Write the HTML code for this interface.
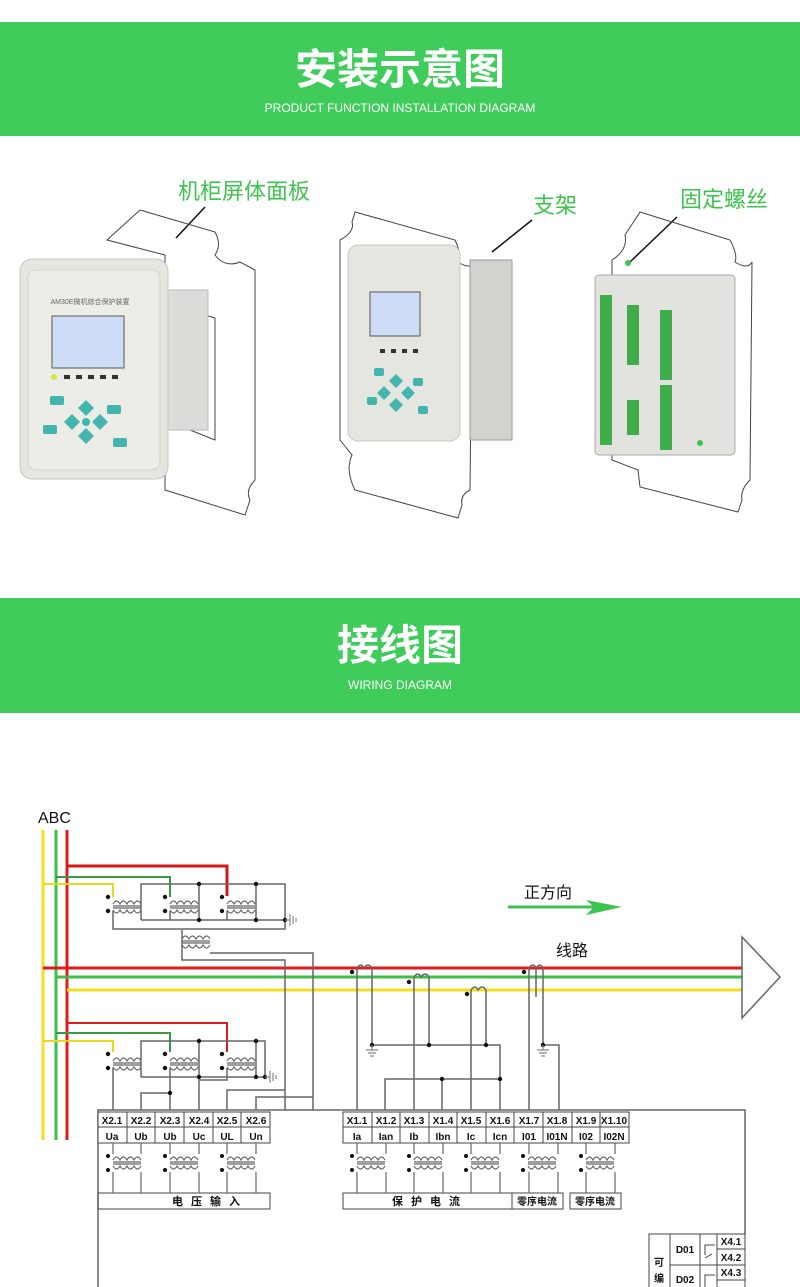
<!DOCTYPE html>
<html><head><meta charset="utf-8"><style>
body{margin:0;background:#fff;}
svg{display:block;}
text{font-family:"Liberation Sans","Noto Sans CJK SC",sans-serif;}
</style></head><body>
<svg width="800" height="1287" viewBox="0 0 800 1287" xmlns="http://www.w3.org/2000/svg">
<!-- banners -->
<rect x="0" y="22" width="800" height="114" fill="#40cc5a"/>
<text x="400" y="84" font-size="42" font-weight="bold" fill="#fff" text-anchor="middle" style="font-family:'Noto Sans CJK SC',sans-serif">安装示意图</text>
<text x="400" y="112" font-size="12" fill="#fff" text-anchor="middle">PRODUCT FUNCTION INSTALLATION DIAGRAM</text>
<rect x="0" y="598" width="800" height="115" fill="#40cc5a"/>
<text x="400" y="660" font-size="42" font-weight="bold" fill="#fff" text-anchor="middle" style="font-family:'Noto Sans CJK SC',sans-serif">接线图</text>
<text x="400" y="689" font-size="12" fill="#fff" text-anchor="middle">WIRING DIAGRAM</text>

<!-- install labels -->
<g fill="#3ec34f" font-size="22">
<text x="178" y="199">机柜屏体面板</text>
<text x="533" y="213">支架</text>
<text x="680" y="207">固定螺丝</text>
</g>
<g stroke="#111" stroke-width="1.5" fill="none">
<line x1="205" y1="207" x2="176" y2="238"/>
<line x1="532" y1="220" x2="492" y2="252"/>
<line x1="677" y1="217" x2="630" y2="262"/>
</g>

<!-- panel outlines -->
<g stroke="#444" stroke-width="1" fill="none">
<path d="M140 210 L215 232 Q222 245 215 255 Q225 268 240 262 L255 270 L255 480 Q245 490 250 500 L245 515 L165 490 L165 255 L107 240 Z"/>
<path d="M140 295 L215 318 L215 440 L190 430"/>
<path d="M355 212 L455 240 Q462 255 458 262 Q470 270 475 262 L472 300 L470 490 Q460 495 462 505 L458 518 L355 490 Q345 470 352 455 L340 440 L340 240 Q355 232 352 222 Z"/>
<path d="M640 212 L730 240 Q738 255 735 262 Q748 270 752 262 L750 480 Q740 490 742 500 L738 512 L640 487 L638 470 L612 460 L612 260 Q628 250 625 235 Z"/>
</g>
<!-- left device -->
<rect x="160" y="290" width="48" height="140" fill="#dcdcd8" stroke="#bbb"/>
<rect x="20" y="259" width="148" height="220" rx="12" fill="#e6e6e0" stroke="#c8c8c0"/>
<rect x="28" y="270" width="132" height="200" rx="8" fill="#ededE8" stroke="#d4d4cc"/>
<rect x="52" y="316" width="72" height="52" fill="#cfdcf6" stroke="#555"/>
<text x="90" y="304" font-size="7" fill="#666" text-anchor="middle">AM30E微机综合保护装置</text>
<g fill="#333"><rect x="64" y="375" width="6" height="4"/><rect x="76" y="375" width="6" height="4"/><rect x="88" y="375" width="6" height="4"/><rect x="100" y="375" width="6" height="4"/><rect x="112" y="375" width="6" height="4"/></g>
<circle cx="54" cy="377" r="3" fill="#dde24a"/>
<g fill="#44b4ae">
<rect x="50" y="396" width="14" height="9" rx="2"/><rect x="107" y="405" width="14" height="9" rx="2"/>
<rect x="43" y="425" width="14" height="9" rx="2"/><rect x="113" y="438" width="14" height="9" rx="2"/>
<path d="M86 400 l8 8 l-8 8 l-8 -8z"/><path d="M86 428 l8 8 l-8 8 l-8 -8z"/><path d="M72 414 l8 8 l-8 8 l-8 -8z"/><path d="M100 414 l8 8 l-8 8 l-8 -8z"/><circle cx="86" cy="422" r="4"/>
</g>
<!-- mid device -->
<rect x="470" y="260" width="42" height="180" fill="#d2d2ce" stroke="#999"/>
<rect x="348" y="245" width="112" height="196" rx="10" fill="#e6e6e0" stroke="#c8c8c0"/>
<rect x="370" y="292" width="50" height="44" fill="#cfdcf6" stroke="#555"/>
<g fill="#333"><rect x="380" y="349" width="5" height="4"/><rect x="391" y="349" width="5" height="4"/><rect x="402" y="349" width="5" height="4"/><rect x="413" y="349" width="5" height="4"/></g>
<g fill="#44b4ae">
<rect x="374" y="368" width="10" height="8" rx="2"/><rect x="413" y="378" width="10" height="8" rx="2"/>
<rect x="367" y="397" width="10" height="8" rx="2"/><rect x="418" y="406" width="10" height="8" rx="2"/>
<path d="M396 374 l7 7 l-7 7 l-7 -7z"/><path d="M396 398 l7 7 l-7 7 l-7 -7z"/><path d="M384 386 l7 7 l-7 7 l-7 -7z"/><path d="M408 386 l7 7 l-7 7 l-7 -7z"/>
</g>
<!-- right device -->
<rect x="595" y="275" width="140" height="180" rx="4" fill="#e2e2de" stroke="#aaa"/>
<rect x="600" y="295" width="12" height="150" fill="#3fae4a"/>
<rect x="627" y="305" width="12" height="60" fill="#3fae4a"/>
<rect x="660" y="310" width="12" height="70" fill="#3fae4a"/>
<rect x="660" y="385" width="12" height="65" fill="#3fae4a"/>
<rect x="627" y="400" width="12" height="35" fill="#3fae4a"/>
<circle cx="628" cy="263" r="3" fill="#3ec34f"/><circle cx="700" cy="443" r="3" fill="#3ec34f"/>

<!-- WIRING -->
<text x="38" y="823" font-size="16" fill="#111">ABC</text>
<g stroke-width="3" fill="none">
<path d="M43 830 V1140" stroke="#f0e020"/>
<path d="M56 830 V1140" stroke="#3cbf46"/>
<path d="M67 830 V1140" stroke="#e01b1b"/>
<path d="M67 866 H227 V896" stroke="#d01a1a"/>
<path d="M67 1023 H227 V1052" stroke="#e01b1b" stroke-width="2"/>
<path d="M43 968 H742" stroke="#e01b1b"/>
<path d="M56 977 H742" stroke="#3cbf46"/>
<path d="M67 990 H742" stroke="#f0e020"/>
</g>
<g stroke-width="2" fill="none">
<path d="M56 877 H170 V897" stroke="#3a9b44"/>
<path d="M43 884 H113 V897" stroke="#e8d820"/>
<path d="M56 1033 H170 V1052" stroke="#3a9b44"/>
<path d="M43 1041 H113 V1052" stroke="#e8d820"/>
</g>
<g stroke="#666" stroke-width="1.5" fill="none">
<!-- upper VT -->
<path d="M141 920 V884 H285 V929 H113 V911"/>
<path d="M141 920 H285"/>
<path d="M199 884 V920 M256 884 V920 M170 911 V920 M227 911 V920"/>
<path d="M182 930 V960 H285 V1110"/>
<path d="M210 953 H313 V1110"/>
<!-- lower VT -->
<path d="M141 1077 V1041 H265 V1077 H141"/>
<path d="M199 1041 V1077 M256 1041 V1077"/>
<path d="M113 1068 V1110 M170 1068 V1110 M141 1110 V1093 H170"/>
<path d="M227 1068 V1080 H199 V1110"/>
<path d="M227 1110 V1090 H285"/>
<path d="M256 1110 V1097 H313"/>
<!-- CTs -->
<path d="M357 968 V1110 M372 968 V1045 H500 V1110"/>
<path d="M414 977 V1110 M429 977 V1045"/>
<path d="M471 990 V1110 M486 990 V1045"/>
<path d="M529 968 V1110 M543 968 V1045 H559 V1110"/>
<path d="M385 1110 V1079 H500 M442 1079 V1110"/>
<path d="M357 968 q4 -6 7 0 q4 -6 8 0 M414 977 q4 -6 7 0 q4 -6 8 0 M471 990 q4 -6 7 0 q4 -6 8 0 M529 968 q4 -6 7 0 q4 -6 7 0 M536 968 V997"/>
<!-- triangle -->
<path d="M742 937 L780 977 L742 1018 Z"/>
<!-- main box -->
<path d="M98 1287 V1110 H745 V1234"/>
</g>
<!-- transformer symbols -->
<g stroke="#666" stroke-width="1.2" fill="none">
<g id="tr">
<path d="M113 904 q3.5 -6 7 0 q3.5 -6 7 0 q3.5 -6 7 0 q3.5 -6 7 0"/>
<path d="M113 906 H141 M113 908 H141"/>
<path d="M113 910 q3.5 6 7 0 q3.5 6 7 0 q3.5 6 7 0 q3.5 6 7 0"/>
</g>
<use href="#tr" x="57"/><use href="#tr" x="114"/>
<use href="#tr" x="0" y="157"/><use href="#tr" x="57" y="157"/><use href="#tr" x="114" y="157"/>
<use href="#tr" x="69" y="35"/>
<use href="#tr" x="0" y="256"/><use href="#tr" x="57" y="256"/><use href="#tr" x="114" y="256"/>
<use href="#tr" x="244" y="256"/><use href="#tr" x="301" y="256"/><use href="#tr" x="358" y="256"/><use href="#tr" x="415" y="256"/><use href="#tr" x="473" y="256"/>
</g>
<g fill="#111">
<circle cx="108" cy="897" r="2.2"/><circle cx="108" cy="911" r="2.2"/><circle cx="165" cy="897" r="2.2"/><circle cx="165" cy="911" r="2.2"/><circle cx="222" cy="897" r="2.2"/><circle cx="222" cy="911" r="2.2"/>
<circle cx="199" cy="884" r="2.2"/><circle cx="256" cy="884" r="2.2"/><circle cx="199" cy="920" r="2.2"/><circle cx="256" cy="920" r="2.2"/><circle cx="285" cy="920" r="2.2"/>
<circle cx="108" cy="1054" r="2.2"/><circle cx="108" cy="1068" r="2.2"/><circle cx="165" cy="1054" r="2.2"/><circle cx="165" cy="1068" r="2.2"/><circle cx="222" cy="1054" r="2.2"/><circle cx="222" cy="1068" r="2.2"/>
<circle cx="199" cy="1041" r="2.2"/><circle cx="256" cy="1041" r="2.2"/><circle cx="199" cy="1077" r="2.2"/><circle cx="256" cy="1077" r="2.2"/><circle cx="265" cy="1077" r="2.2"/><circle cx="170" cy="1093" r="2.2"/>
<circle cx="352" cy="972" r="2.2"/><circle cx="409" cy="982" r="2.2"/><circle cx="467" cy="994" r="2.2"/><circle cx="524" cy="972" r="2.2"/>
<circle cx="372" cy="1045" r="2.2"/><circle cx="429" cy="1045" r="2.2"/><circle cx="486" cy="1045" r="2.2"/><circle cx="543" cy="1045" r="2.2"/><circle cx="442" cy="1079" r="2.2"/><circle cx="500" cy="1079" r="2.2"/>
<g id="dd"><circle cx="108" cy="1156" r="2"/><circle cx="108" cy="1170" r="2"/></g>
<use href="#dd" x="57"/><use href="#dd" x="114"/><use href="#dd" x="244"/><use href="#dd" x="301"/><use href="#dd" x="358"/><use href="#dd" x="415"/><use href="#dd" x="473"/>
</g>
<!-- grounds -->
<g stroke="#888" stroke-width="1.2" fill="none">
<path d="M285 920 H290 M290 914 V926 M293 916 V924 M296 918 V922"/>
<path d="M265 1077 H270 M270 1071 V1083 M273 1073 V1081 M276 1075 V1079"/>
<path d="M366 1050 H378 M368 1053 H376 M370 1056 H374 M372 1045 V1050"/>
<path d="M537 1050 H549 M539 1053 H547 M541 1056 H545 M543 1045 V1050"/>
</g>
<!-- direction arrow -->
<text x="524" y="898" font-size="16" fill="#111">正方向</text>
<line x1="508" y1="907" x2="595" y2="907" stroke="#3ec34f" stroke-width="3"/>
<path d="M586 900 L622 907 L586 915 L594 907Z" fill="#3ec34f"/>
<text x="556" y="956" font-size="16" fill="#111">线路</text>

<!-- terminal boxes -->
<g stroke="#444" stroke-width="1" fill="#fff">
<rect x="98" y="1112" width="172" height="31"/>
<rect x="343" y="1112" width="286" height="31"/>
</g>
<g stroke="#444" stroke-width="1" fill="none">
<path d="M98 1127 H270 M343 1127 H629"/>
<path d="M127 1112 V1143 M155 1112 V1143 M184 1112 V1143 M213 1112 V1143 M241 1112 V1143"/>
<path d="M372 1112 V1143 M400 1112 V1143 M429 1112 V1143 M457 1112 V1143 M486 1112 V1143 M514 1112 V1143 M543 1112 V1143 M572 1112 V1143 M600 1112 V1143"/>
<rect x="98" y="1193" width="172" height="16"/>
<rect x="343" y="1193" width="169" height="16"/><rect x="512" y="1193" width="51" height="16"/><rect x="570" y="1193" width="51" height="16"/>
</g>
<g stroke="#666" stroke-width="1.2" fill="none">
<path d="M113 1143 V1154 M141 1143 V1154 M113 1172 V1193 M141 1172 V1193"/>
<path d="M170 1143 V1154 M199 1143 V1154 M170 1172 V1193 M199 1172 V1193"/>
<path d="M227 1143 V1154 M256 1143 V1154 M227 1172 V1193 M256 1172 V1193"/>
<path d="M357 1143 V1154 M386 1143 V1154 M357 1172 V1193 M386 1172 V1193"/>
<path d="M414 1143 V1154 M443 1143 V1154 M414 1172 V1193 M443 1172 V1193"/>
<path d="M471 1143 V1154 M500 1143 V1154 M471 1172 V1193 M500 1172 V1193"/>
<path d="M529 1143 V1154 M558 1143 V1154 M529 1172 V1193 M558 1172 V1193"/>
<path d="M586 1143 V1154 M615 1143 V1154 M586 1172 V1193 M615 1172 V1193"/>
</g>
<g font-size="10" font-weight="bold" fill="#111" text-anchor="middle">
<text x="112" y="1124">X2.1</text><text x="141" y="1124">X2.2</text><text x="170" y="1124">X2.3</text><text x="199" y="1124">X2.4</text><text x="227" y="1124">X2.5</text><text x="256" y="1124">X2.6</text>
<text x="112" y="1140">Ua</text><text x="141" y="1140">Ub</text><text x="170" y="1140">Ub</text><text x="199" y="1140">Uc</text><text x="227" y="1140">UL</text><text x="256" y="1140">Un</text>
<text x="357" y="1124">X1.1</text><text x="386" y="1124">X1.2</text><text x="414" y="1124">X1.3</text><text x="443" y="1124">X1.4</text><text x="471" y="1124">X1.5</text><text x="500" y="1124">X1.6</text><text x="529" y="1124">X1.7</text><text x="557" y="1124">X1.8</text><text x="586" y="1124">X1.9</text><text x="614" y="1124">X1.10</text>
<text x="357" y="1140">Ia</text><text x="386" y="1140">Ian</text><text x="414" y="1140">Ib</text><text x="443" y="1140">Ibn</text><text x="471" y="1140">Ic</text><text x="500" y="1140">Icn</text><text x="529" y="1140">I01</text><text x="557" y="1140">I01N</text><text x="586" y="1140">I02</text><text x="614" y="1140">I02N</text>
<text x="210" y="1205" font-size="11" letter-spacing="8">电压输入</text>
<text x="430" y="1205" font-size="11" letter-spacing="8">保护电流</text>
<text x="537" y="1205" font-size="10">零序电流</text>
<text x="595" y="1205" font-size="10">零序电流</text>
</g>
<!-- DO table -->
<g stroke="#444" stroke-width="1" fill="none">
<path d="M649 1287 V1234 H745 V1287 M670 1234 V1287 M700 1234 V1287 M717 1234 V1287 M670 1265 H745 M717 1249 H745 M717 1280 H745"/>
<path d="M715 1245 H705 V1255 M705 1258 L712 1254 M715 1275 H705 V1287"/>
</g>
<g font-size="10" font-weight="bold" fill="#111" text-anchor="middle">
<text x="685" y="1253">D01</text><text x="685" y="1283">D02</text>
<text x="731" y="1245">X4.1</text><text x="731" y="1261">X4.2</text><text x="731" y="1276">X4.3</text>
<text x="659" y="1266">可</text><text x="659" y="1282">编</text>
</g>
</svg>
</body></html>
